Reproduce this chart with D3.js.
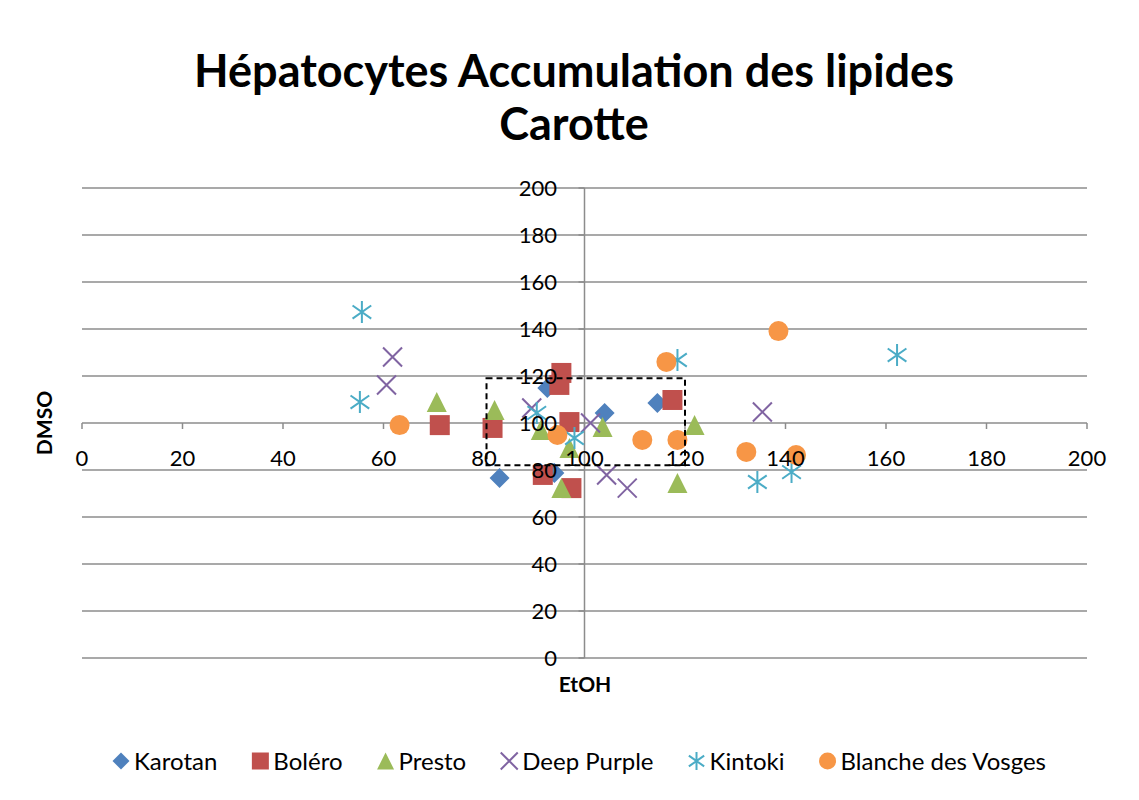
<!DOCTYPE html>
<html>
<head>
<meta charset="utf-8">
<script src="https://cdn.jsdelivr.net/npm/d3@7"></script>
<style>
  body { margin: 0; background: #fff; }
  text { font-family: Lato, "Open Sans", sans-serif; fill: #000; }
</style>
</head>
<body>
<div id="chart"></div>
<script>
var width = 1139, height = 800;

// points, [EtOH, DMSO]
var karotan = [[83.1, 76.6], [92.6, 114.9], [94.0, 78.7], [104.0, 104.3], [114.5, 108.5]];
var bolero = [[71.2, 99.1], [81.7, 97.9], [95.4, 121.3], [95.0, 116.2], [97.0, 100.4],
              [91.7, 77.9], [97.4, 72.3], [117.5, 109.8]];
var presto = [[70.6, 108.9], [82.1, 105.5], [91.3, 97.0], [97.0, 89.4], [103.6, 98.3],
              [95.4, 72.3], [118.5, 74.5], [121.9, 99.1]];
var deepPurple = [[61.8, 128.1], [60.6, 116.2], [89.5, 106.4], [101.2, 100.0], [104.4, 77.9],
                  [108.5, 72.3], [135.4, 104.7]];
var kintoki = [[55.7, 147.2], [55.3, 108.9], [90.5, 104.3], [98.0, 93.6], [118.5, 126.8],
               [134.4, 74.9], [141.2, 79.1], [162.2, 128.9]];
var blanche = [[63.2, 99.1], [94.6, 94.9], [111.5, 92.8], [116.3, 126.0], [118.5, 92.8],
               [132.2, 87.7], [138.6, 139.1], [142.1, 86.4]];

var seriesNames = ["Karotan", "Boléro", "Presto", "Deep Purple", "Kintoki", "Blanche des Vosges"];
var seriesColors = ["#4F81BD", "#C0504D", "#9BBB59", "#8064A2", "#4BACC6", "#F79646"];
var seriesShapes = ["diamond", "square", "triangle", "x", "star", "circle"];
var seriesData = [karotan, bolero, presto, deepPurple, kintoki, blanche];

var xTicks = [0, 20, 40, 60, 80, 100, 120, 140, 160, 180, 200];
var yTicks = [0, 20, 40, 60, 80, 100, 120, 140, 160, 180, 200];

// dashed frame drawn on the chart: [x0, x1, y0, y1]
var zoneBox = [80.5, 120, 82, 119];

var x = d3.scaleLinear().domain([0, 200]).range([82, 1087]);
var y = d3.scaleLinear().domain([0, 200]).range([658, 188]);

var svg = d3.select("#chart").append("svg")
  .attr("width", width)
  .attr("height", height);

svg.append("rect")
  .attr("width", width).attr("height", height)
  .attr("fill", "#fff");

// gridlines
svg.append("g").selectAll("line")
  .data(yTicks).enter()
  .append("line")
    .attr("x1", x(0)).attr("x2", x(200))
    .attr("y1", function(d){return y(d);})
    .attr("y2", function(d){return y(d);})
    .attr("stroke", "#8c8c8c")
    .attr("stroke-width", 1.5);

// axes crossing at 100 / 100
svg.append("line")
  .attr("x1", x(100)).attr("x2", x(100))
  .attr("y1", y(200)).attr("y2", y(0))
  .attr("stroke", "#8c8c8c").attr("stroke-width", 1.5);

svg.append("g").selectAll("line")
  .data(xTicks).enter()
  .append("line")
    .attr("x1", function(d){return x(d);})
    .attr("x2", function(d){return x(d);})
    .attr("y1", y(100)).attr("y2", y(100) + 6)
    .attr("stroke", "#8c8c8c").attr("stroke-width", 1.5);

svg.append("g").selectAll("line")
  .data(yTicks).enter()
  .append("line")
    .attr("x1", x(100) - 6).attr("x2", x(100))
    .attr("y1", function(d){return y(d);})
    .attr("y2", function(d){return y(d);})
    .attr("stroke", "#8c8c8c").attr("stroke-width", 1.5);

function markerPath(shape, size){
  var h = size / 2;
  switch(shape){
    case "diamond":
      return "M0," + (-h) + "L" + h + ",0L0," + h + "L" + (-h) + ",0Z";
    case "square":
      return "M" + (-h) + "," + (-h) + "H" + h + "V" + h + "H" + (-h) + "Z";
    case "triangle":
      return "M0," + (-h) + "L" + h + "," + h + "L" + (-h) + "," + h + "Z";
    case "x":
      return "M" + (-h) + "," + (-h) + "L" + h + "," + h + "M" + h + "," + (-h) + "L" + (-h) + "," + h;
    case "star":
      return "M" + (-h * 0.85) + "," + (-h * 0.6) + "L" + (h * 0.85) + "," + (h * 0.6) +
             "M" + (h * 0.85) + "," + (-h * 0.6) + "L" + (-h * 0.85) + "," + (h * 0.6) +
             "M0," + (-h) + "V" + h;
    case "circle":
      return d3.symbol().type(d3.symbolCircle).size(Math.PI * h * h)();
  }
}

function drawMarker(sel, shape, color, size){
  var line = shape == "x" || shape == "star";
  sel.append("path")
    .attr("d", markerPath(shape, size))
    .attr("fill", line ? "none" : color)
    .attr("stroke", line ? color : "none")
    .attr("stroke-width", line ? 2 : 0);
}

function markerSize(shape){
  if(shape == "star"){return 22;}
  if(shape == "x"){return 19;}
  return 20;
}

// points
seriesData.forEach(function(pts, i){
  var g = svg.append("g").attr("class", "series s" + i);
  g.selectAll("g")
    .data(pts).enter()
    .append("g")
      .attr("transform", function(d){return "translate(" + x(d[0]) + "," + y(d[1]) + ")";})
      .each(function(){
        drawMarker(d3.select(this), seriesShapes[i], seriesColors[i], markerSize(seriesShapes[i]));
      });
});

// tick labels
svg.append("g").selectAll("text")
  .data(yTicks).enter()
  .append("text")
    .attr("x", 557)
    .attr("y", function(d){return y(d);})
    .attr("dy", "0.36em")
    .attr("text-anchor", "end")
    .style("font-size", "22px")
    .text(function(d){return d;});

svg.append("g").selectAll("text")
  .data(xTicks).enter()
  .append("text")
    .attr("x", function(d){return x(d);})
    .attr("y", 466)
    .attr("text-anchor", "middle")
    .style("font-size", "22px")
    .text(function(d){return d;});

// dashed frame
svg.append("rect")
  .attr("x", x(zoneBox[0]))
  .attr("y", y(zoneBox[3]))
  .attr("width", x(zoneBox[1]) - x(zoneBox[0]))
  .attr("height", y(zoneBox[2]) - y(zoneBox[3]))
  .attr("fill", "none")
  .attr("stroke", "#000")
  .attr("stroke-width", 2)
  .attr("stroke-dasharray", "6,4");

// titles
svg.append("text")
  .attr("x", 574).attr("y", 87)
  .attr("text-anchor", "middle")
  .style("font-size", "45px").style("font-weight", "bold")
  .text("Hépatocytes Accumulation des lipides");

svg.append("text")
  .attr("x", 574).attr("y", 140)
  .attr("text-anchor", "middle")
  .style("font-size", "45px").style("font-weight", "bold")
  .text("Carotte");

svg.append("text")
  .attr("transform", "translate(52,423) rotate(-90)")
  .attr("text-anchor", "middle")
  .style("font-size", "21px").style("font-weight", "bold")
  .text("DMSO");

svg.append("text")
  .attr("x", 585).attr("y", 692)
  .attr("text-anchor", "middle")
  .style("font-size", "21px").style("font-weight", "bold")
  .text("EtOH");

// legend
var legend = svg.append("g").attr("class", "legend");
var items = legend.selectAll("g")
  .data(seriesNames).enter()
  .append("g");

items.each(function(d, i){
  var item = d3.select(this);
  var m = item.append("g");
  drawMarker(m, seriesShapes[i], seriesColors[i], seriesShapes[i] == "star" ? 18 : 17);
  item.append("text")
    .attr("x", 13)
    .attr("dy", "0.36em")
    .style("font-size", "24px")
    .text(d);
});

// spread entries between the left marker and the right text end
var legendLeft = 121, legendRight = 1046, pos = 0, widths = [];
items.each(function(){
  widths.push(d3.select(this).select("text").node().getComputedTextLength() + 13);
});
var gap = (legendRight - legendLeft - d3.sum(widths)) / (widths.length - 1);
items.attr("transform", function(d, i){
  var tx = legendLeft + pos;
  pos += widths[i] + gap;
  return "translate(" + tx + ",761)";
});
</script>
</body>
</html>
